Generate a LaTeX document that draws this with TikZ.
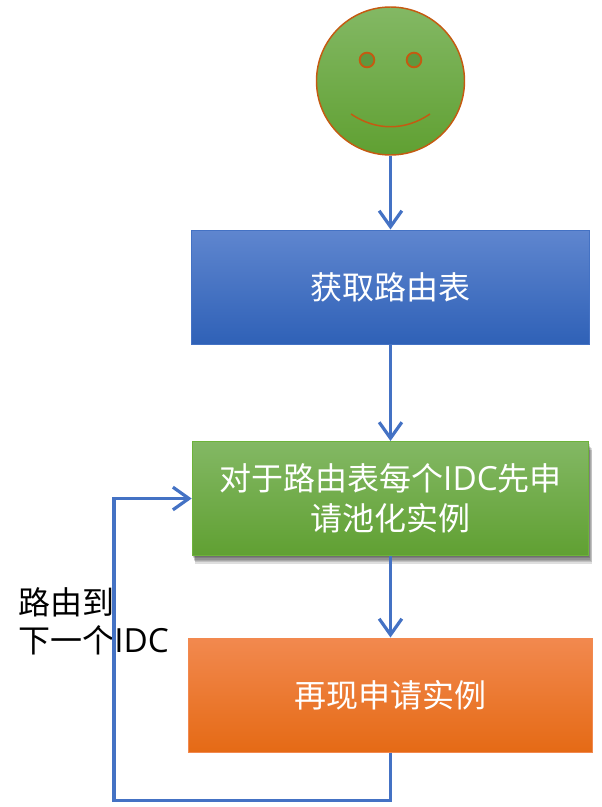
\documentclass[tikz,border=0pt]{standalone}
\usepackage{fontspec}
\setmainfont{Noto Sans CJK SC}
\newfontfamily\latinfont[Scale=1.04]{Open Sans}
\usetikzlibrary{arrows.meta,shadows}

\definecolor{linkblue}{HTML}{4472C4}
\definecolor{faceline}{HTML}{C55A11}

\tikzset{
  box/.style={rectangle, draw, line width=0.75pt, inner sep=0pt, text=white, align=center,
    text width=276pt, font=\fontsize{24pt}{30pt}\selectfont},
  bluebox/.style={box, draw=linkblue, top color=blue1, middle color=blue2, bottom color=blue3},
  greenbox/.style={box, draw=green2, top color=green1, middle color=green2, bottom color=green3},
  orangebox/.style={box, draw=orange1, top color=orange1, middle color=orange2, bottom color=orange3},
  softshadow/.style={general shadow={shadow xshift=0.4*#1, shadow yshift=-#1, fill=black, opacity=0.13}},
  link/.style={draw=linkblue, line width=2.4pt, -{Straight Barb[length=12pt,width=17pt]}},
  eye/.style={circle, draw=faceline, line width=1.4pt, minimum size=11pt, inner sep=0pt, fill=eyegreen},
}
\definecolor{blue1}{HTML}{5F86CF}
\definecolor{blue2}{HTML}{3C70CD}
\definecolor{blue3}{HTML}{2F61B7}
\definecolor{green1}{HTML}{83B864}
\definecolor{green2}{HTML}{6DB33A}
\definecolor{green3}{HTML}{60A032}
\definecolor{eyegreen}{HTML}{5F983F}
\definecolor{orange1}{HTML}{F2894F}
\definecolor{orange2}{HTML}{F77A20}
\definecolor{orange3}{HTML}{E56A15}

\begin{document}
\begin{tikzpicture}[x=0.75pt,y=-0.75pt]
        \useasboundingbox (0,0) rectangle (601,807);

        % Smiling face
        \node[circle, draw=faceline, line width=1.1pt, minimum size=111pt, inner sep=0pt,
          top color=green1, middle color=green2, bottom color=green3] (face) at (390.5,81) {};
        \node[eye] (eyel) at (367,60) {};
        \node[eye] (eyer) at (414,60) {};
        \draw[faceline, line width=1.1pt] (351,114) .. controls (376,131) and (405,131) .. (430,114);

        % Steps of the flow
        \node[bluebox, minimum width=299pt, minimum height=85.5pt] (route) at (390.5,287) {\raisebox{-2pt}{获取路由表}};
        \node[greenbox, minimum width=297.5pt, minimum height=85.5pt,
          softshadow=6pt, softshadow=5pt, softshadow=4pt, softshadow=3pt, softshadow=2pt, softshadow=1pt] (idc) at (390.5,498.5)
          {\raisebox{-1.5pt}{对于路由表每个{\latinfont IDC}先申}\\\raisebox{-1.5pt}{请池化实例}};
        \node[orangebox, minimum width=303pt, minimum height=85.5pt] (apply) at (390.5,695) {\raisebox{-1.5pt}{再现申请实例}};

        % Side label of the loop
        \node[anchor=north west, inner sep=0pt, align=left, font=\fontsize{24pt}{29pt}\selectfont] (next) at (18,587)
          {路由到\\下一个{\latinfont IDC}};

        % Corners of the way back
        \coordinate (backr) at (apply.south |- 0,800.5);
        \coordinate (backl) at (114,800.5);
        \coordinate (backt) at (114,498.5);

        % Connectors
        \draw[link] (face) -- (route);
        \draw[link] (route) -- (idc);
        \draw[link] (idc) -- (apply);
        \draw[link] (apply.south) -- (backr) -- (backl) -- (backt) -- (idc.west);
      \end{tikzpicture}
\end{document}
